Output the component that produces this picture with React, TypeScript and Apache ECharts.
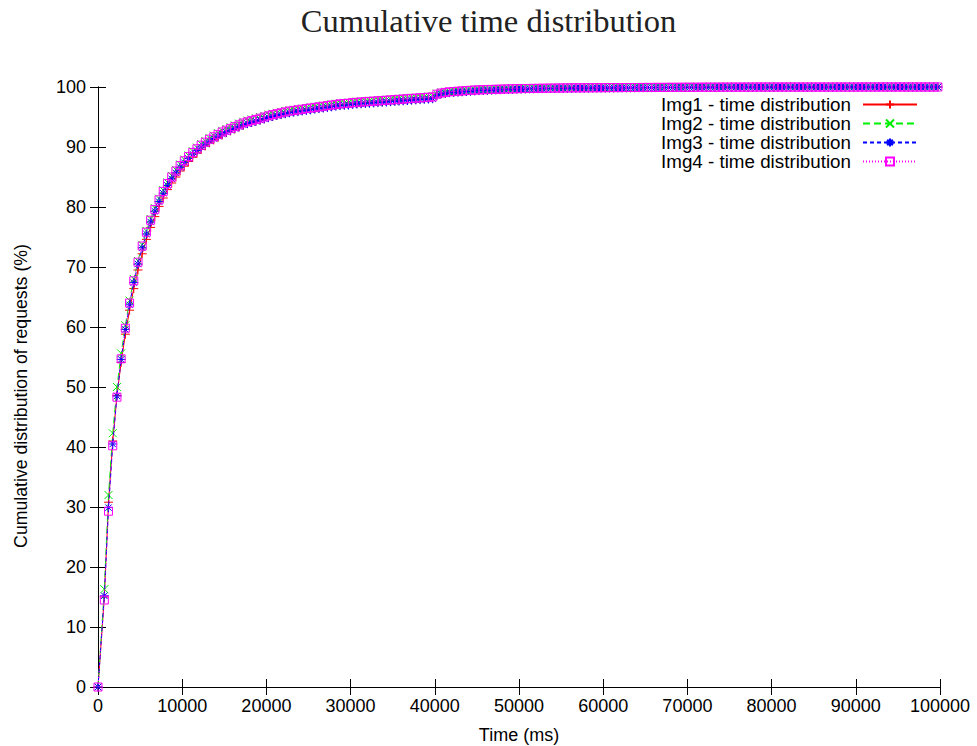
import React, { useEffect, useRef } from "react";
import * as echarts from "echarts";

// Sampling grid of the measurements (ms): 0, then bins of 500 ms centred on 750, 1250, ...
const TIMES_MS: number[] = [0, ...Array.from({ length: 199 }, (_, i) => 750 + 500 * i)];

const SERIES_NAMES = [
  "Img1 - time distribution",
  "Img2 - time distribution",
  "Img3 - time distribution",
  "Img4 - time distribution",
];

// Cumulative share of requests (%) at each sample time
const IMG1 = [
  0, 15.0, 30.8, 41.0, 48.6, 54.1, 58.8, 62.8, 66.4, 69.5,
  72.2, 74.6, 76.6, 78.4, 80.1, 81.5, 82.9, 84.0, 85.0, 86.0,
  86.8, 87.6, 88.3, 89.0, 89.6, 90.2, 90.7, 91.2, 91.6, 92.0,
  92.4, 92.7, 93.0, 93.3, 93.6, 93.9, 94.1, 94.3, 94.5, 94.7,
  94.9, 95.1, 95.3, 95.45, 95.6, 95.75, 95.9, 96.0, 96.1, 96.2,
  96.3, 96.4, 96.5, 96.6, 96.7, 96.8, 96.9, 97.0, 97.05, 97.1,
  97.2, 97.25, 97.3, 97.35, 97.4, 97.45, 97.5, 97.55, 97.6, 97.65,
  97.7, 97.75, 97.8, 97.85, 97.9, 97.95, 98.0, 98.05, 98.1, 98.15,
  98.7, 98.9, 99.0, 99.1, 99.15, 99.2, 99.25, 99.3, 99.35, 99.4,
  99.45, 99.48, 99.5, 99.53, 99.56, 99.59, 99.62, 99.64, 99.66, 99.68,
  99.7,
  99.72, 99.73, 99.74, 99.75, 99.76, 99.77, 99.78, 99.79, 99.8, 99.81,
  99.82, 99.82, 99.83, 99.83, 99.84, 99.84, 99.85, 99.85, 99.86, 99.86,
  99.87, 99.87, 99.88, 99.88, 99.89, 99.89, 99.9, 99.9, 99.9, 99.91,
  99.91, 99.92, 99.92, 99.92, 99.93, 99.93, 99.93, 99.94, 99.94, 99.94,
  99.95, 99.95, 99.95, 99.96, 99.96, 99.96, 99.96, 99.97, 99.97, 99.97,
  99.97, 99.97, 99.98, 99.98, 99.98, 99.98, 99.98, 99.98, 99.98, 99.98,
  99.99, 99.99, 99.99, 99.99, 99.99, 99.99, 99.99, 99.99, 99.99, 99.99,
  99.99, 99.99, 99.99, 99.99, 99.99, 99.99, 99.99, 99.99, 99.99, 99.99,
  99.99, 99.99, 100, 100, 100, 100, 100, 100, 100, 100,
  100, 100, 100, 100, 100, 100, 100, 100, 100,
];

const IMG2 = [
  0, 16.3, 32.0, 42.3, 50.0, 55.6, 60.3, 64.4, 68.0, 71.0,
  73.7, 76.0, 78.0, 79.8, 81.4, 82.8, 84.1, 85.2, 86.2, 87.1,
  87.9, 88.6, 89.3, 89.9, 90.5, 91.0, 91.5, 91.9, 92.3, 92.7,
  93.0, 93.3, 93.6, 93.9, 94.2, 94.4, 94.6, 94.8, 95.0, 95.2,
  95.4, 95.55, 95.7, 95.85, 96.0, 96.1, 96.2, 96.3, 96.4, 96.5,
  96.6, 96.7, 96.8, 96.9, 97.0, 97.1, 97.2, 97.3, 97.35, 97.4,
  97.5, 97.55, 97.6, 97.65, 97.7, 97.75, 97.8, 97.85, 97.9, 97.95,
  98.0, 98.05, 98.1, 98.15, 98.2, 98.25, 98.3, 98.35, 98.4, 98.45,
  98.9, 99.1, 99.2, 99.25, 99.3, 99.35, 99.4, 99.45, 99.5, 99.55,
  99.57, 99.6, 99.62, 99.64, 99.66, 99.68, 99.7, 99.72, 99.74, 99.76,
  99.78,
  99.79, 99.8, 99.81, 99.82, 99.83, 99.84, 99.85, 99.85, 99.86, 99.86,
  99.87, 99.87, 99.88, 99.88, 99.89, 99.89, 99.9, 99.9, 99.91, 99.91,
  99.92, 99.92, 99.92, 99.93, 99.93, 99.93, 99.94, 99.94, 99.94, 99.95,
  99.95, 99.95, 99.95, 99.96, 99.96, 99.96, 99.96, 99.97, 99.97, 99.97,
  99.97, 99.98, 99.98, 99.98, 99.98, 99.98, 99.99, 99.99, 99.99, 99.99,
  99.99, 99.99, 99.99, 99.99, 99.99, 99.99, 99.99, 99.99, 99.99, 99.99,
  99.99, 99.99, 100, 100, 100, 100, 100, 100, 100, 100,
  100, 100, 100, 100, 100, 100, 100, 100, 100, 100,
  100, 100, 100, 100, 100, 100, 100, 100, 100, 100,
  100, 100, 100, 100, 100, 100, 100, 100, 100,
];

const IMG3 = [
  0, 15.2, 29.9, 40.5, 48.5, 54.6, 59.6, 63.7, 67.4, 70.5,
  73.2, 75.5, 77.5, 79.3, 80.9, 82.3, 83.6, 84.7, 85.7, 86.6,
  87.4, 88.1, 88.8, 89.4, 90.0, 90.5, 91.0, 91.4, 91.8, 92.2,
  92.5, 92.8, 93.1, 93.4, 93.7, 93.9, 94.1, 94.3, 94.5, 94.7,
  94.9, 95.1, 95.25, 95.4, 95.55, 95.7, 95.8, 95.9, 96.0, 96.1,
  96.2, 96.3, 96.4, 96.5, 96.6, 96.7, 96.8, 96.9, 96.95, 97.0,
  97.1, 97.15, 97.2, 97.25, 97.3, 97.35, 97.4, 97.45, 97.5, 97.55,
  97.6, 97.65, 97.7, 97.75, 97.8, 97.85, 97.9, 97.95, 98.0, 98.05,
  98.6, 98.85, 98.95, 99.05, 99.1, 99.15, 99.2, 99.25, 99.3, 99.35,
  99.4, 99.43, 99.46, 99.49, 99.52, 99.55, 99.58, 99.6, 99.62, 99.64,
  99.66,
  99.68, 99.7, 99.71, 99.72, 99.73, 99.74, 99.75, 99.76, 99.77, 99.78,
  99.79, 99.8, 99.8, 99.81, 99.82, 99.82, 99.83, 99.84, 99.84, 99.85,
  99.85, 99.86, 99.86, 99.87, 99.87, 99.88, 99.88, 99.89, 99.89, 99.9,
  99.9, 99.9, 99.91, 99.91, 99.92, 99.92, 99.92, 99.93, 99.93, 99.93,
  99.94, 99.94, 99.94, 99.95, 99.95, 99.95, 99.95, 99.96, 99.96, 99.96,
  99.96, 99.97, 99.97, 99.97, 99.97, 99.97, 99.97, 99.97, 99.97, 99.97,
  99.98, 99.98, 99.98, 99.98, 99.98, 99.98, 99.98, 99.98, 99.98, 99.98,
  99.98, 99.98, 99.98, 99.98, 99.98, 99.99, 99.99, 99.99, 99.99, 99.99,
  99.99, 99.99, 99.99, 99.99, 99.99, 99.99, 99.99, 99.99, 99.99, 100,
  100, 100, 100, 100, 100, 100, 100, 100, 100,
];

const IMG4 = [
  0, 14.5, 29.3, 40.2, 48.3, 54.7, 59.8, 64.0, 67.7, 70.8,
  73.5, 75.8, 77.8, 79.6, 81.2, 82.6, 83.9, 85.0, 86.0, 86.9,
  87.7, 88.4, 89.1, 89.7, 90.3, 90.8, 91.3, 91.7, 92.1, 92.5,
  92.8, 93.1, 93.4, 93.7, 94.0, 94.2, 94.4, 94.6, 94.8, 95.0,
  95.2, 95.4, 95.55, 95.7, 95.85, 96.0, 96.1, 96.2, 96.3, 96.4,
  96.5, 96.6, 96.7, 96.8, 96.9, 97.0, 97.1, 97.2, 97.25, 97.3,
  97.4, 97.45, 97.5, 97.55, 97.6, 97.65, 97.7, 97.75, 97.8, 97.85,
  97.9, 97.95, 98.0, 98.05, 98.1, 98.15, 98.2, 98.25, 98.3, 98.35,
  98.8, 99.0, 99.1, 99.2, 99.25, 99.3, 99.35, 99.4, 99.45, 99.5,
  99.52, 99.55, 99.57, 99.6, 99.62, 99.64, 99.66, 99.68, 99.7, 99.72,
  99.74,
  99.75, 99.76, 99.77, 99.78, 99.79, 99.8, 99.81, 99.82, 99.83, 99.84,
  99.85, 99.85, 99.86, 99.86, 99.87, 99.87, 99.88, 99.88, 99.89, 99.89,
  99.9, 99.9, 99.9, 99.91, 99.91, 99.92, 99.92, 99.92, 99.93, 99.93,
  99.93, 99.94, 99.94, 99.94, 99.95, 99.95, 99.95, 99.95, 99.96, 99.96,
  99.96, 99.96, 99.97, 99.97, 99.97, 99.97, 99.97, 99.98, 99.98, 99.98,
  99.98, 99.98, 99.98, 99.98, 99.98, 99.99, 99.99, 99.99, 99.99, 99.99,
  99.99, 99.99, 99.99, 99.99, 99.99, 99.99, 99.99, 99.99, 99.99, 99.99,
  99.99, 99.99, 99.99, 99.99, 99.99, 99.99, 99.99, 99.99, 99.99, 99.99,
  100, 100, 100, 100, 100, 100, 100, 100, 100, 100,
  100, 100, 100, 100, 100, 100, 100, 100, 100,
];

const X_TICKS = { min: 0, max: 100000, interval: 10000 };
const Y_TICKS = { min: 0, max: 100, interval: 10 };

const SANS = "'Liberation Sans', Arial, Helvetica, sans-serif";
const SERIF = "'Liberation Serif', 'Times New Roman', serif";

// gnuplot-style point glyphs
const SYMBOL_PLUS = "path://M0,5L10,5M5,0L5,10";
const SYMBOL_CROSS = "path://M0,0L10,10M10,0L0,10";
const SYMBOL_STAR = "path://M0,5L10,5M5,0L5,10M1.5,1.5L8.5,8.5M8.5,1.5L1.5,8.5";

const STYLES = [
  { values: IMG1, color: "#ff0000", dash: "solid" as any, symbol: SYMBOL_PLUS, size: 9 },
  { values: IMG2, color: "#00ee00", dash: [7, 4], symbol: SYMBOL_CROSS, size: 8 },
  { values: IMG3, color: "#0000ff", dash: [4, 3], symbol: SYMBOL_STAR, size: 9 },
  { values: IMG4, color: "#ff00ff", dash: [1, 2], symbol: "rect", size: 8 },
];

export default function App() {
  const ref = useRef<HTMLDivElement>(null);

  useEffect(() => {
    if (!ref.current) return;
    const chart = echarts.init(ref.current, undefined, { renderer: "svg" });

    const axisLine = { show: true, lineStyle: { color: "#000", width: 1 } };
    const tick = { show: true, inside: true, length: 8, lineStyle: { color: "#000", width: 1 } };
    const label = { color: "#000", fontSize: 18, fontFamily: SANS };

    chart.setOption({
      animation: false,
      backgroundColor: "#fff",
      title: {
        text: "Cumulative time distribution",
        left: "center",
        top: -1,
        textStyle: { fontFamily: SERIF, fontSize: 32.5, fontWeight: "normal", color: "#222" },
      },
      legend: {
        orient: "vertical",
        right: 59,
        top: 95,
        padding: 0,
        align: "right",
        itemWidth: 54,
        itemHeight: 10,
        itemGap: 0,
        selectedMode: false,
        textStyle: { color: "#000", fontSize: 18.8, fontFamily: SANS, lineHeight: 17.5, padding: [0, 7, 0, 0] },
        data: SERIES_NAMES,
      },
      grid: { left: 98, right: 37, top: 87, bottom: 59, outerBoundsMode: "none" },
      xAxis: [
        {
          type: "value",
          ...X_TICKS,
          name: "Time (ms)",
          nameLocation: "middle",
          nameGap: 39,
          nameTextStyle: { color: "#000", fontSize: 18, fontFamily: SANS },
          axisLine,
          axisTick: tick,
          axisLabel: { ...label, margin: 10, formatter: (v: number) => String(v) },
          splitLine: { show: false },
        },
        {
          type: "value",
          position: "top",
          ...X_TICKS,
          axisLine,
          axisTick: tick,
          axisLabel: { show: false },
          splitLine: { show: false },
        },
      ],
      yAxis: [
        {
          type: "value",
          ...Y_TICKS,
          name: "Cumulative distribution of requests (%)",
          nameLocation: "middle",
          nameGap: 68,
          nameTextStyle: { color: "#000", fontSize: 17.7, fontFamily: SANS, padding: [0, 18, 0, 0] },
          axisLine,
          axisTick: tick,
          axisLabel: { ...label, margin: 12, formatter: (v: number) => String(v) },
          splitLine: { show: false },
        },
        {
          type: "value",
          position: "right",
          ...Y_TICKS,
          axisLine,
          axisTick: tick,
          axisLabel: { show: false },
          splitLine: { show: false },
        },
      ],
      series: STYLES.map((s, k) => ({
        name: SERIES_NAMES[k],
        type: "line",
        xAxisIndex: 0,
        yAxisIndex: 0,
        data: TIMES_MS.map((t, i) => [t, s.values[i]]),
        showSymbol: true,
        showAllSymbol: true,
        symbol: s.symbol,
        symbolSize: s.size,
        clip: false,
        lineStyle: { color: s.color, width: 1, type: s.dash },
        itemStyle: { color: "rgba(0,0,0,0)", borderColor: s.color, borderWidth: 1 },
        emphasis: { disabled: true },
        z: 2 + k,
      })),
    });

    return () => chart.dispose();
  }, []);

  return (
    <div
      ref={ref}
      style={{ position: "fixed", left: 0, top: 0, width: 977, height: 746, background: "#fff" }}
    />
  );
}
